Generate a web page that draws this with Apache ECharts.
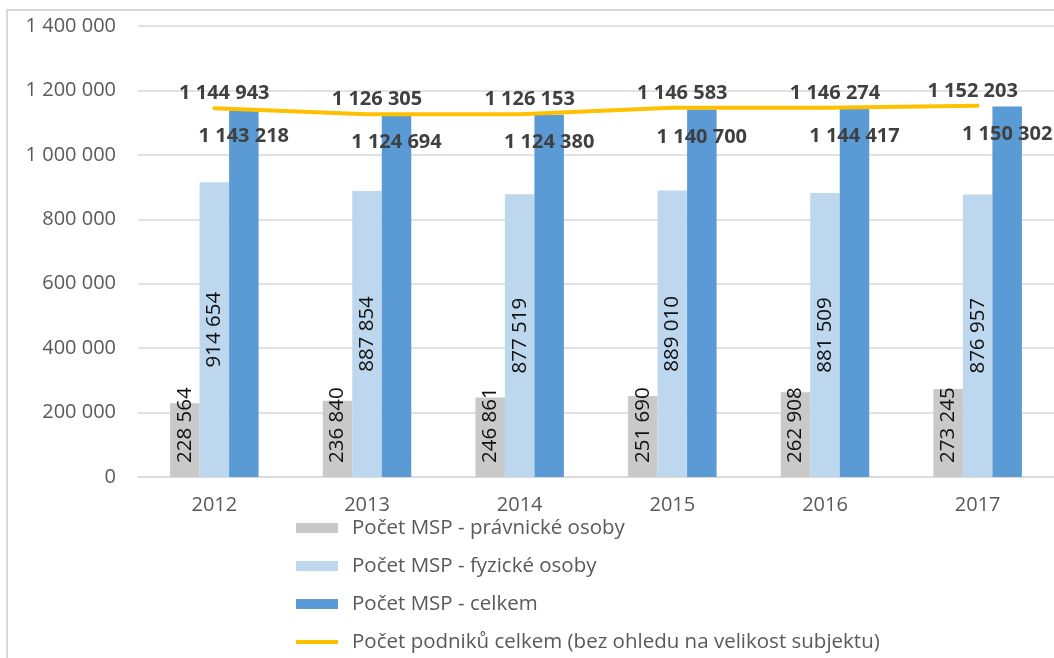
<!DOCTYPE html>
<html>
<head>
<meta charset="utf-8">
<script src="https://cdn.jsdelivr.net/npm/echarts@6/dist/echarts.min.js"></script>
<style>
html,body{margin:0;padding:0;background:#fff;}
#chart{width:1054px;height:658px;}
</style>
</head>
<body>
<div id="chart"></div>
<script>
const years = ['2012','2013','2014','2015','2016','2017'];
const pravnicke = [228564, 236840, 246861, 251690, 262908, 273245];
const fyzicke = [914654, 887854, 877519, 889010, 881509, 876957];
const celkemMSP = [1143218, 1124694, 1124380, 1140700, 1144417, 1150302];
const podnikyCelkem = [1144943, 1126305, 1126153, 1146583, 1146274, 1152203];
const seriesNames = [
  'Počet MSP - právnické osoby',
  'Počet MSP - fyzické osoby',
  'Počet MSP - celkem',
  'Počet podniků celkem (bez ohledu na velikost subjektu)'
];

const FONT = 'Open Sans';
const fmt = v => String(v).replace(/\B(?=(\d{3})+(?!\d))/g, ' ');

const chart = echarts.init(document.getElementById('chart'), null, {renderer: 'canvas'});
chart.setOption({
  animation: false,
  backgroundColor: '#fff',
  textStyle: {fontFamily: FONT},
  graphic: [{
    type: 'rect',
    shape: {x: 7, y: 10, width: 1200, height: 800},
    style: {fill: 'none', stroke: '#d9d9d9', lineWidth: 2},
    silent: true, z: -1
  }],
  grid: {left: 138, right: -10, top: 26, bottom: 181, containLabel: false},
  xAxis: {
    type: 'category',
    data: years,
    axisLine: {show: true, lineStyle: {color: '#d9d9d9', width: 1.5}},
    axisTick: {show: false},
    axisLabel: {color: '#595959', fontSize: 20, margin: 18, fontFamily: FONT}
  },
  yAxis: {
    type: 'value',
    min: 0, max: 1400000, interval: 200000,
    axisLine: {show: false},
    axisTick: {show: false},
    splitLine: {lineStyle: {color: '#d9d9d9', width: 1.5}},
    axisLabel: {color: '#595959', fontSize: 20, margin: 22, fontFamily: FONT, formatter: v => fmt(v)}
  },
  legend: {
    orient: 'vertical',
    left: 296, top: 516,
    padding: 0,
    itemWidth: 42, itemHeight: 10,
    itemGap: 14,
    textStyle: {color: '#595959', fontSize: 20.5, fontFamily: FONT, lineHeight: 24, padding: [0, 0, 0, 9]},
    data: [
      {name: seriesNames[0], icon: 'rect'},
      {name: seriesNames[1], icon: 'rect'},
      {name: seriesNames[2], icon: 'rect'},
      {name: seriesNames[3], icon: 'path://M0 0H44V4H0Z'}
    ]
  },
  series: [
    {
      name: seriesNames[0], type: 'bar', data: pravnicke,
      barWidth: 29.5, barGap: '0%',
      itemStyle: {color: '#c9c9c9'},
      label: {
        show: true, position: 'insideBottom', rotate: 90, distance: 14,
        align: 'left', verticalAlign: 'middle',
        color: '#111', fontSize: 20.5, fontFamily: FONT,
        formatter: p => fmt(p.value)
      }
    },
    {
      name: seriesNames[1], type: 'bar', data: fyzicke,
      barWidth: 29.5, barGap: '0%',
      itemStyle: {color: '#bdd7ee'},
      label: {
        show: true, position: 'inside', rotate: 90,
        align: 'center', verticalAlign: 'middle',
        color: '#111', fontSize: 20.5, fontFamily: FONT,
        formatter: p => fmt(p.value)
      }
    },
    {
      name: seriesNames[2], type: 'bar', data: celkemMSP,
      barWidth: 29.5, barGap: '0%',
      itemStyle: {color: '#5b9bd5'},
      label: {
        show: true, position: 'insideTop', distance: 18,
        color: '#404040', fontSize: 20, fontWeight: 'bold', fontFamily: FONT,
        formatter: p => fmt(p.value)
      }
    },
    {
      name: seriesNames[3], type: 'line',
      data: podnikyCelkem.map((v, i) => ({value: v, label: {offset: i === podnikyCelkem.length - 1 ? [-5, 0] : [10, 0]}})),
      symbol: 'circle', symbolSize: 1, showSymbol: true,
      lineStyle: {color: '#ffc000', width: 4, cap: 'round'},
      itemStyle: {color: '#ffc000'},
      z: 5,
      label: {
        show: true, position: 'top', distance: 4,
        color: '#404040', fontSize: 20, fontWeight: 'bold', fontFamily: FONT,
        formatter: p => fmt(p.value)
      }
    }
  ]
});
</script>
</body>
</html>
